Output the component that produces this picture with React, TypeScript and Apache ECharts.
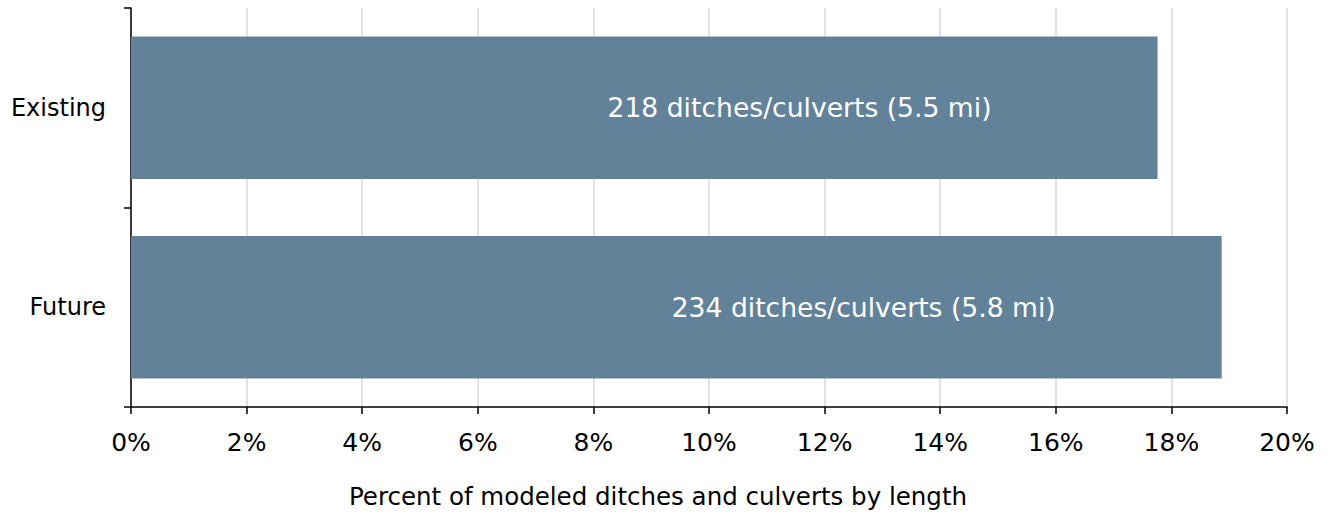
import React, { useEffect, useRef } from "react";
import * as echarts from "echarts";

const categories = ["Existing", "Future"];
const values = [17.76, 18.87];
const barLabels = ["218 ditches/culverts (5.5 mi)", "234 ditches/culverts (5.8 mi)"];
const xTicks = [0, 2, 4, 6, 8, 10, 12, 14, 16, 18, 20];
const xAxisTitle = "Percent of modeled ditches and culverts by length";

const FONT = "DejaVu Sans";

export default function App() {
  const ref = useRef<HTMLDivElement>(null);
  useEffect(() => {
    if (!ref.current) return;
    const chart = echarts.init(ref.current, undefined, { renderer: "svg" });
    chart.setOption({
      animation: false,
      grid: { left: 131, right: 46, top: 8, bottom: 107 },
      xAxis: {
        type: "value",
        min: xTicks[0],
        max: xTicks[xTicks.length - 1],
        interval: 2,
        name: xAxisTitle,
        nameLocation: "middle",
        nameGap: 77,
        nameTextStyle: { fontFamily: FONT, fontSize: 24.5, color: "#000", padding: [0, 102, 0, 0] },
        axisLine: { show: true, lineStyle: { color: "#000", width: 1.5 } },
        axisTick: { show: true, length: 7, lineStyle: { color: "#000", width: 1.5 } },
        axisLabel: {
          fontFamily: FONT,
          fontSize: 25,
          color: "#000",
          margin: 23,
          formatter: (v: number) => `${v}%`,
        },
        splitLine: { show: true, lineStyle: { color: "#d9d9d9", width: 1.5 } },
      },
      yAxis: {
        type: "category",
        data: categories,
        inverse: true,
        axisLine: { show: true, lineStyle: { color: "#000", width: 1.5 } },
        axisTick: { show: true, length: 7, lineStyle: { color: "#000", width: 1.5 } },
        axisLabel: { fontFamily: FONT, fontSize: 24, color: "#000", margin: 25 },
      },
      series: [
        {
          type: "bar",
          data: values,
          barWidth: "71.5%",
          itemStyle: { color: "#62829a" },
          label: {
            show: true,
            position: "insideRight",
            distance: 166,
            fontFamily: FONT,
            fontSize: 26.6,
            color: "#fff",
            formatter: (p: any) => barLabels[p.dataIndex],
          },
        },
      ],
    });
    return () => chart.dispose();
  }, []);
  return <div ref={ref} style={{ width: 1333, height: 514, position: "absolute", left: 0, top: 0 }} />;
}
